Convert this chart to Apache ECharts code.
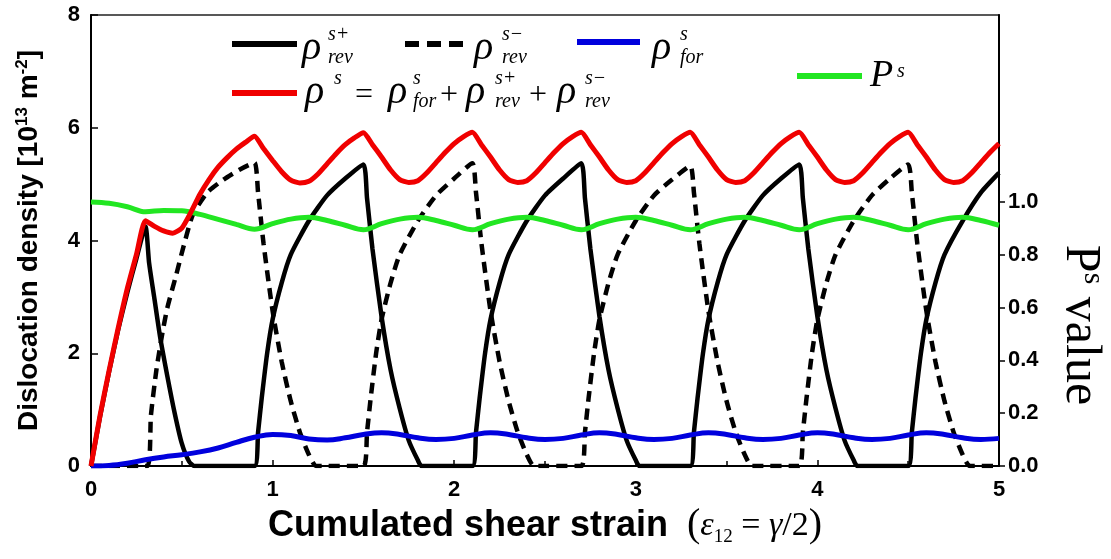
<!DOCTYPE html>
<html><head><meta charset="utf-8">
<script src="https://cdn.jsdelivr.net/npm/echarts@6/dist/echarts.min.js"></script>
<style>html,body{margin:0;padding:0;background:#fff}#c{width:1111px;height:559px}</style>
</head><body><div id="c"></div>
<script>
// ---- data ----
const xRevPlus = [0,0.05,0.1,0.15,0.2,0.25,0.3,0.32,0.35,0.38,0.42,0.46,0.5,0.54,0.57,
  0.9,0.92,0.94,0.97,1.0,1.05,1.1,1.2,1.3,1.4,1.5,1.52,1.55,1.6,1.65,1.7,1.75,1.8,1.82,
  2.1,2.12,2.14,2.17,2.2,2.25,2.3,2.4,2.5,2.6,2.7,2.72,2.75,2.8,2.85,2.9,2.95,3.0,3.02,
  3.3,3.32,3.34,3.37,3.4,3.45,3.5,3.6,3.7,3.8,3.9,3.92,3.95,4.0,4.05,4.1,4.15,4.2,4.22,
  4.5,4.52,4.54,4.57,4.6,4.65,4.7,4.8,4.9,5.0];
const yRevPlus = [0,0.88,1.68,2.42,3.08,3.68,4.25,3.6,2.95,2.3,1.6,0.95,0.4,0.08,0,
  0,0.6,1.2,2.0,2.6,3.25,3.75,4.35,4.8,5.1,5.35,4.75,3.85,2.65,1.7,1.02,0.45,0.1,0,
  0,0.6,1.2,2.0,2.6,3.25,3.75,4.35,4.8,5.1,5.37,4.75,3.85,2.65,1.7,1.02,0.45,0.1,0,
  0,0.6,1.2,2.0,2.6,3.25,3.75,4.35,4.8,5.1,5.35,4.75,3.85,2.65,1.7,1.02,0.45,0.1,0,
  0,0.6,1.2,2.0,2.6,3.25,3.75,4.35,4.85,5.2];

const xRevMinus = [0,0.31,0.33,0.36,0.39,0.42,0.47,0.51,0.56,0.64,0.73,0.82,0.9,0.92,0.95,1.0,1.05,1.1,1.15,1.2,1.24,
  1.5,1.52,1.54,1.57,1.6,1.65,1.7,1.8,1.9,2.0,2.1,2.12,2.15,2.2,2.25,2.3,2.35,2.4,2.44,
  2.7,2.72,2.74,2.77,2.8,2.85,2.9,3.0,3.1,3.2,3.3,3.32,3.35,3.4,3.45,3.5,3.55,3.6,3.64,
  3.9,3.92,3.94,3.97,4.0,4.05,4.1,4.2,4.3,4.4,4.5,4.52,4.55,4.6,4.65,4.7,4.75,4.8,4.84,5.0];
const yRevMinus = [0,0,0.9,1.7,2.3,2.8,3.4,3.9,4.45,4.85,5.08,5.26,5.38,4.85,3.95,2.75,1.85,1.15,0.6,0.2,0,
  0,0.6,1.2,2.0,2.6,3.25,3.75,4.35,4.8,5.1,5.37,4.85,3.95,2.75,1.85,1.15,0.6,0.2,0,
  0,0.6,1.2,2.0,2.6,3.25,3.75,4.35,4.8,5.08,5.32,4.85,3.95,2.75,1.85,1.15,0.6,0.2,0,
  0,0.6,1.2,2.0,2.6,3.25,3.75,4.35,4.8,5.1,5.35,4.85,3.95,2.75,1.85,1.15,0.6,0.2,0,0];

const xFine = [0,0.05,0.1,0.15,0.2,0.25,0.3,0.35,0.4,0.45,0.5,0.55,0.6,0.65,0.7,0.75,0.8,0.85,0.9,0.95,
  1.0,1.05,1.1,1.15,1.2,1.25,1.3,1.35,1.4,1.45,1.5,1.55,1.6,1.65,1.7,1.75,1.8,1.85,1.9,1.95,
  2.0,2.05,2.1,2.15,2.2,2.25,2.3,2.35,2.4,2.45,2.5,2.55,2.6,2.65,2.7,2.75,2.8,2.85,2.9,2.95,
  3.0,3.05,3.1,3.15,3.2,3.25,3.3,3.35,3.4,3.45,3.5,3.55,3.6,3.65,3.7,3.75,3.8,3.85,3.9,3.95,
  4.0,4.05,4.1,4.15,4.2,4.25,4.3,4.35,4.4,4.45,4.5,4.55,4.6,4.65,4.7,4.75,4.8,4.85,4.9,4.95,5.0];
const yTotal = [0,0.9,1.7,2.45,3.15,3.75,4.35,4.25,4.17,4.13,4.22,4.5,4.82,5.08,5.3,5.47,5.62,5.74,5.85,
  5.63,5.42,5.22,5.07,5.02,5.05,5.18,5.36,5.54,5.7,5.82,5.91,
  5.7,5.48,5.25,5.08,5.03,5.06,5.2,5.38,5.56,5.72,5.84,5.92,
  5.7,5.48,5.25,5.08,5.03,5.06,5.2,5.38,5.56,5.72,5.84,5.92,
  5.7,5.48,5.25,5.08,5.03,5.06,5.2,5.38,5.56,5.72,5.84,5.92,
  5.7,5.48,5.25,5.08,5.03,5.06,5.2,5.38,5.56,5.72,5.84,5.92,
  5.7,5.48,5.25,5.08,5.03,5.06,5.2,5.38,5.56,5.72,5.84,5.92,
  5.7,5.48,5.25,5.08,5.03,5.06,5.2,5.38,5.56,5.72];

const xCoarse = [0,0.1,0.2,0.3,0.4,0.5,0.6,0.7,0.8,0.9,1.0,1.1,1.2,1.3,1.4,1.5,1.6,1.7,1.8,1.9,
  2.0,2.1,2.2,2.3,2.4,2.5,2.6,2.7,2.8,2.9,3.0,3.1,3.2,3.3,3.4,3.5,3.6,3.7,3.8,3.9,
  4.0,4.1,4.2,4.3,4.4,4.5,4.6,4.7,4.8,4.9,5.0];
const yForward = [0,0.01,0.05,0.11,0.16,0.2,0.25,0.32,0.42,0.51,0.56,0.54,0.48,0.46,0.5,0.56,0.59,0.56,0.5,0.47,
  0.49,0.55,0.59,0.56,0.5,0.47,0.49,0.55,0.59,0.56,0.5,0.47,0.49,0.55,0.59,0.56,0.5,0.47,0.49,0.55,
  0.59,0.56,0.5,0.47,0.49,0.55,0.59,0.56,0.5,0.47,0.49];
const yPs = [1.0,0.995,0.982,0.963,0.968,0.967,0.953,0.934,0.915,0.897,
  0.918,0.935,0.942,0.93,0.912,0.895,
  0.918,0.935,0.942,0.93,0.912,0.895,
  0.918,0.935,0.942,0.93,0.912,0.895,
  0.918,0.935,0.942,0.93,0.912,0.895,
  0.918,0.935,0.942,0.93,0.912,0.895,
  0.918,0.935,0.942,0.93,0.912,0.895,
  0.918,0.935,0.942,0.93,0.912];

const xTicks = [0,1,2,3,4,5];
const leftTicks = [0,2,4,6,8];
const rightTicks = [0,0.2,0.4,0.6,0.8,1.0];

// ---- styling ----
const C_RED = '#f00000', C_GREEN = '#22e622', C_BLUE = '#0000dd', C_BLACK = '#000';
const SANS = 'Liberation Sans', SERIF = 'Liberation Serif';
const zip = (xs, ys) => xs.map((x, i) => [x, ys[i]]);

const lab = {fontFamily: SANS, fontWeight: 'bold', fontSize: 22, color: '#000'};

function rho(x, cy, sup, sub, dx) {
  const sx = x + (dx || 27);
  const els = [
    {type:'text', left:x, top:cy-22.5, style:{text:'ρ', font:'italic 40px "Liberation Serif"', fill:'#000'}},
    {type:'text', left:sx, top:cy-26, style:{text:sup, font:'italic 20px "Liberation Serif"', fill:'#000'}}
  ];
  if (sub) els.push({type:'text', left:sx, top:cy-3, style:{text:sub, font:'italic 20px "Liberation Serif"', fill:'#000'}});
  return els;
}
function seg(x1, x2, y, color, dash) {
  return {type:'line', shape:{x1:x1, y1:y, x2:x2, y2:y},
    style:{stroke:color, lineWidth:6, lineDash: dash || null, lineCap:'butt'}};
}
function op(x, y, t) {
  return {type:'text', left:x, top:y, style:{text:t, font:'32px "Liberation Serif"', fill:'#000'}};
}

const graphics = [].concat(
  [seg(232, 297, 44, C_BLACK)], rho(302, 51, 's+', 'rev', 26),
  [seg(405, 466, 44, C_BLACK, [14, 8])], rho(474, 51, 's\u2212', 'rev', 28),
  [seg(577, 640, 42, C_BLUE)], rho(652, 51, 's', 'for', 28),
  [seg(232, 297, 93, C_RED)], rho(305, 95, 's', null, 29),
  [op(355, 80, '=')],
  rho(388, 95, 's', 'for', 25),
  [op(440, 80, '+')],
  rho(466, 95, 's+', 'rev', 29),
  [op(529, 80, '+')],
  rho(557, 95, 's\u2212', 'rev', 28),
  [seg(797, 862, 76, C_GREEN)],
  [{type:'text', left:870, top:57, style:{text:'P', font:'italic 38px "Liberation Serif"', fill:'#000'}},
   {type:'text', left:897, top:62, style:{text:'s', font:'italic 20px "Liberation Serif"', fill:'#000'}}],
  [{type:'text', x:1080, y:325, rotation:-Math.PI/2,
    style:{text:'{p|P}{s|s}{v| value}', align:'center', verticalAlign:'middle',
      rich:{
        p:{fontFamily:SERIF, fontSize:50, fill:'#000', lineHeight:56},
        v:{fontFamily:SERIF, fontSize:50, fill:'#000', lineHeight:56},
        s:{fontFamily:SERIF, fontSize:30, fill:'#000', lineHeight:38, verticalAlign:'top'}
      }}}]
);

const chart = echarts.init(document.getElementById('c'), null, {renderer:'canvas'});
chart.setOption({
  animation: false,
  backgroundColor: '#fff',
  grid: {left: 91, right: 112, top: 15, bottom: 93, show: true, borderColor: '#222', borderWidth: 1.5, backgroundColor: 'transparent'},
  xAxis: {
    type: 'value', min: 0, max: 5, interval: 1,
    axisLine: {show: true, onZero: false, lineStyle: {color: '#000', width: 2}},
    axisTick: {show: true, inside: true, length: 6, lineStyle: {color: '#000', width: 1.5}, customValues: xTicks},
    minorTick: {show: true, splitNumber: 2, length: 5, lineStyle: {color: '#000', width: 1.5}},
    axisLabel: Object.assign({margin: 13, customValues: xTicks}, lab),
    splitLine: {show: false},
    name: '{b|Cumulated shear strain}{g| }{p|(}{i|ε}{sb|12}{r| = }{i|γ}{r|/2}{p|)}',
    nameLocation: 'middle', nameGap: 38,
    nameTextStyle: {
      rich: {
        b: {fontFamily: SANS, fontWeight: 'bold', fontSize: 36, color: '#000', lineHeight: 42},
        g: {fontFamily: SANS, fontSize: 10, width: 19, lineHeight: 42},
        p: {fontFamily: SERIF, fontSize: 40, color: '#000', lineHeight: 42},
        i: {fontFamily: SERIF, fontStyle: 'italic', fontSize: 34, color: '#000', lineHeight: 42},
        r: {fontFamily: SERIF, fontSize: 34, color: '#000', lineHeight: 42},
        sb: {fontFamily: SERIF, fontSize: 19, color: '#000', lineHeight: 30, verticalAlign: 'bottom'}
      }
    }
  },
  yAxis: [{
    type: 'value', min: 0, max: 8, interval: 2, position: 'left',
    axisLine: {show: true, lineStyle: {color: '#000', width: 2}},
    axisTick: {show: true, inside: true, length: 7, lineStyle: {color: '#000', width: 1.5}},
    axisLabel: Object.assign({margin: 11, customValues: leftTicks}, lab),
    splitLine: {show: false},
    name: '{t|Dislocation density [10}{s|13}{t| m}{s|-2}{t|]}',
    nameLocation: 'middle', nameGap: 47, nameRotate: 90,
    nameTextStyle: {
      rich: {
        t: {fontFamily: SANS, fontWeight: 'bold', fontSize: 28, color: '#000', lineHeight: 30},
        s: {fontFamily: SANS, fontWeight: 'bold', fontSize: 17, color: '#000', lineHeight: 18, verticalAlign: 'top'}
      }
    }
  }, {
    type: 'value', min: 0, max: 1.7083, position: 'right',
    axisLine: {show: true, lineStyle: {color: '#000', width: 2}},
    axisTick: {show: true, inside: false, length: 6, lineStyle: {color: '#000', width: 1.5}, customValues: rightTicks},
    axisLabel: Object.assign({margin: 9, customValues: rightTicks, formatter: v => v.toFixed(1)}, lab),
    splitLine: {show: false}
  }],
  series: [
    {name: 'rev+', type: 'line', data: zip(xRevPlus, yRevPlus), symbol: 'none', z: 2, smooth: 0.2,
     lineStyle: {color: C_BLACK, width: 4.5}},
    {name: 'rev-', type: 'line', data: zip(xRevMinus, yRevMinus), symbol: 'none', z: 2, smooth: 0.2,
     lineStyle: {color: C_BLACK, width: 4.5, type: [11, 7]}},
    {name: 'for', type: 'line', data: zip(xCoarse, yForward), symbol: 'none', smooth: 0.4, z: 3,
     lineStyle: {color: C_BLUE, width: 5}},
    {name: 'Ps', type: 'line', yAxisIndex: 1, data: zip(xCoarse, yPs), symbol: 'none', smooth: 0.35, z: 3,
     lineStyle: {color: C_GREEN, width: 5}},
    {name: 'total', type: 'line', data: zip(xFine, yTotal), symbol: 'none', smooth: 0.2, z: 4,
     lineStyle: {color: C_RED, width: 5}}
  ],
  graphic: graphics
});
</script>
</body></html>
